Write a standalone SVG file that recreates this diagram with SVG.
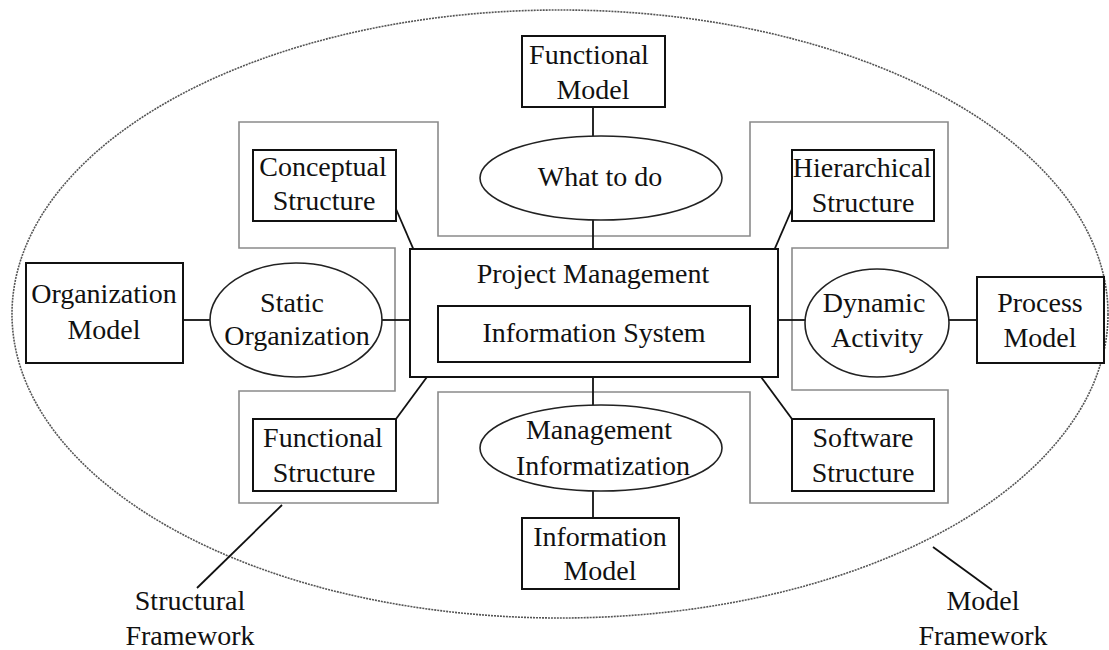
<svg xmlns="http://www.w3.org/2000/svg" width="1109" height="650" viewBox="0 0 1109 650">
<style>
.box{fill:#fff;stroke:#111;stroke-width:2}
.ell{fill:#fff;stroke:#222;stroke-width:1.6}
.frame{fill:none;stroke:#8a8a8a;stroke-width:1.6}
.outer{fill:none;stroke:#555;stroke-width:1.6;stroke-dasharray:2 1}
.ln{fill:none;stroke:#111;stroke-width:1.8}
text{font-family:"Liberation Serif","Times New Roman",serif;font-size:28px;fill:#111;text-anchor:middle}
</style>
<rect width="1109" height="650" fill="#fff"/>
<ellipse id="model-framework" class="outer" cx="560" cy="314" rx="548" ry="304"/>
<polygon id="structural-framework" class="frame" points="239,122 438,122 438,236 750,236 750,122 948,122 948,248 792,248 792,390 948,390 948,503 750,503 750,392 438,392 438,503 239,503 239,391 395,391 395,248 239,248"/>
<g id="connectors">
<line class="ln" x1="593" y1="107" x2="593" y2="136"/>
<line class="ln" x1="593" y1="220" x2="593" y2="249"/>
<line class="ln" x1="593" y1="377" x2="593" y2="405"/>
<line class="ln" x1="593" y1="490" x2="593" y2="518"/>
<line class="ln" x1="183" y1="320" x2="210" y2="320"/>
<line class="ln" x1="381" y1="320" x2="410" y2="320"/>
<line class="ln" x1="778" y1="320" x2="806" y2="320"/>
<line class="ln" x1="949" y1="320" x2="977" y2="320"/>
<line class="ln" x1="396" y1="209" x2="438" y2="306"/>
<line class="ln" x1="792" y1="209" x2="750" y2="306"/>
<line class="ln" x1="438" y1="362" x2="396" y2="419"/>
<line class="ln" x1="750" y1="362" x2="792" y2="419"/>
<line class="ln" x1="282" y1="505" x2="197" y2="588"/>
<line class="ln" x1="933" y1="547" x2="992" y2="590"/>
</g>
<g id="pmis">
<rect class="box" x="410" y="249" width="368" height="128"/>
<rect class="box" x="438" y="306" width="312" height="56"/>
<text x="593" y="283">Project Management</text>
<text x="594" y="342">Information System</text>
</g>
<g id="functional-model">
<rect class="box" x="522" y="36" width="143" height="71"/>
<text x="589" y="64">Functional</text>
<text x="593" y="99">Model</text>
</g>
<g id="what-to-do">
<ellipse class="ell" cx="601" cy="178" rx="121" ry="42"/>
<text x="600" y="186">What to do</text>
</g>
<g id="conceptual-structure">
<rect class="box" x="253" y="150" width="143" height="71"/>
<text x="323" y="176">Conceptual</text>
<text x="324" y="210">Structure</text>
</g>
<g id="hierarchical-structure">
<rect class="box" x="792" y="150" width="142" height="71"/>
<text x="862" y="177">Hierarchical</text>
<text x="863" y="212">Structure</text>
</g>
<g id="organization-model">
<rect class="box" x="26" y="263" width="157" height="100"/>
<text x="104" y="303">Organization</text>
<text x="104" y="339">Model</text>
</g>
<g id="static-organization">
<ellipse class="ell" cx="296" cy="320" rx="86" ry="57"/>
<text x="292" y="312">Static</text>
<text x="297" y="345">Organization</text>
</g>
<g id="dynamic-activity">
<ellipse class="ell" cx="877" cy="323" rx="72" ry="54"/>
<text x="874" y="312">Dynamic</text>
<text x="877" y="347">Activity</text>
</g>
<g id="process-model">
<rect class="box" x="977" y="277" width="127" height="86"/>
<text x="1040" y="312">Process</text>
<text x="1040" y="347">Model</text>
</g>
<g id="functional-structure">
<rect class="box" x="253" y="419" width="143" height="72"/>
<text x="323" y="447">Functional</text>
<text x="324" y="482">Structure</text>
</g>
<g id="software-structure">
<rect class="box" x="792" y="419" width="142" height="72"/>
<text x="863" y="447">Software</text>
<text x="863" y="482">Structure</text>
</g>
<g id="management-informatization">
<ellipse class="ell" cx="601" cy="448" rx="121" ry="43"/>
<text x="599" y="439">Management</text>
<text x="603" y="475">Informatization</text>
</g>
<g id="information-model">
<rect class="box" x="522" y="518" width="157" height="71"/>
<text x="600" y="546">Information</text>
<text x="600" y="580">Model</text>
</g>
<g id="labels">
<text x="190" y="610">Structural</text>
<text x="190" y="645">Framework</text>
<text x="983" y="610">Model</text>
<text x="983" y="645">Framework</text>
</g>
</svg>
